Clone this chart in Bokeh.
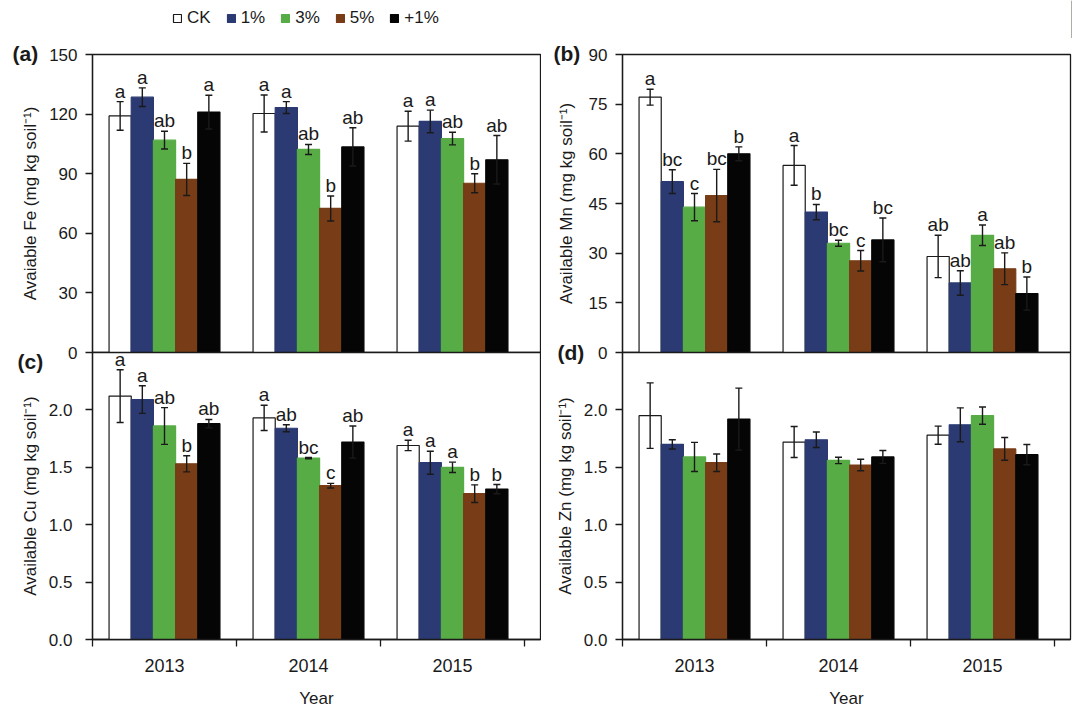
from bokeh.plotting import figure
from bokeh.models import (ColumnDataSource, Whisker, TeeHead, FixedTicker, Legend,
                          LegendItem, Range1d, NumeralTickFormatter)
from bokeh.layouts import row, column
from bokeh.core.properties import value
from bokeh.embed import file_html
from bokeh.resources import INLINE

years = ["2013", "2014", "2015"]
treatments = ["CK", "1%", "3%", "5%", "+1%"]
colors = ["#FFFFFF", "#2B3A72", "#58AC45", "#783D16", "#050505"]

# mean and error per treatment (rows) for 2013, 2014, 2015 (columns)
fe_mean = [[119.1, 120.3, 113.9], [128.5, 123.3, 116.3], [106.9, 102.2, 107.7],
           [87.1, 72.5, 85.2], [121.0, 103.5, 97.0]]
fe_err = [[7.2, 9.3, 7.5], [4.7, 3.0, 5.7], [4.5, 2.5, 3.2], [8.1, 6.3, 4.8], [8.5, 9.6, 12.2]]
fe_letters = [["a", "a", "a"], ["a", "a", "a"], ["ab", "ab", "ab"], ["b", "b", "b"], ["a", "ab", "ab"]]

mn_mean = [[77.1, 56.5, 29.0], [51.6, 42.4, 21.0], [43.9, 33.0, 35.4],
           [47.4, 27.7, 25.3], [60.0, 34.0, 17.8]]
mn_err = [[2.4, 6.0, 6.4], [3.6, 2.3, 3.7], [4.1, 0.9, 3.1], [7.9, 3.1, 4.8], [2.1, 6.6, 5.0]]
mn_letters = [["a", "a", "ab"], ["bc", "b", "ab"], ["c", "bc", "a"], ["bc", "c", "ab"], ["b", "bc", "b"]]

cu_mean = [[2.12, 1.93, 1.69], [2.09, 1.84, 1.54], [1.86, 1.58, 1.50],
           [1.53, 1.34, 1.27], [1.88, 1.72, 1.31]]
cu_err = [[0.23, 0.11, 0.045], [0.12, 0.03, 0.10], [0.16, 0.005, 0.045],
          [0.07, 0.02, 0.077], [0.037, 0.14, 0.04]]
cu_letters = [["a", "a", "a"], ["a", "ab", "a"], ["ab", "bc", "a"], ["b", "c", "b"], ["ab", "ab", "b"]]

zn_mean = [[1.95, 1.72, 1.78], [1.70, 1.74, 1.87], [1.59, 1.56, 1.95],
           [1.54, 1.52, 1.66], [1.92, 1.59, 1.61]]
zn_err = [[0.285, 0.135, 0.079], [0.04, 0.067, 0.148], [0.127, 0.028, 0.075],
          [0.076, 0.05, 0.099], [0.27, 0.056, 0.088]]

FONT = "Liberation Sans"
INK = "#1A1A1A"
BAR_W = 0.154
X_END = 448 / 144


def bar_style(j):
    return dict(fill_color=colors[j],
                line_color=INK if treatments[j] == "CK" else colors[j],
                line_width=1.2)


def panel(mean, err, letters, y_end, y_ticks, y_fmt, ylabel, tag, tag_offset, tag_standoff,
          width, height, borders, bottom_axis, tick_standoff, label_standoff):
    left, right, top, bottom = borders
    p = figure(width=width, height=height, x_range=Range1d(0, X_END),
               y_range=Range1d(0, y_end), output_backend="svg",
               toolbar_location=None, min_border_left=left,
               min_border_right=right, min_border_top=top,
               min_border_bottom=bottom)
    p.grid.visible = False
    p.outline_line_color = INK
    p.outline_line_width = 1.3

    # panel tag drawn as the plot title, pulled to the left of the frame
    p.title.text = tag
    p.title.align = "left"
    p.title.offset = tag_offset
    p.title.standoff = tag_standoff
    p.title.text_font = FONT
    p.title.text_font_size = "21px"
    p.title.text_font_style = "bold"
    p.title.text_color = INK

    for j in range(len(treatments)):
        xs = [i + 0.5 + (j - 2) * BAR_W for i in range(len(years))]
        src = ColumnDataSource(dict(
            x=xs, top=mean[j],
            upper=[m + e for m, e in zip(mean[j], err[j])],
            lower=[m - e for m, e in zip(mean[j], err[j])],
            letter=letters[j] if letters else [""] * len(years)))
        p.vbar(x="x", top="top", width=BAR_W, source=src, **bar_style(j))
        p.add_layout(Whisker(source=src, base="x", upper="upper", lower="lower",
                             level="annotation", line_color=INK, line_width=1.4,
                             upper_head=TeeHead(size=7, line_color=INK, line_width=1.4),
                             lower_head=TeeHead(size=7, line_color=INK, line_width=1.4)))
        if letters:
            p.text(x="x", y="upper", text="letter", source=src,
                   text_align="center", text_baseline="bottom", y_offset=0,
                   text_font=value(FONT), text_font_size="19px", text_color=INK)

    ax = p.yaxis[0]
    ax.ticker = FixedTicker(ticks=y_ticks)
    ax.formatter = NumeralTickFormatter(format=y_fmt)
    ax.axis_label = ylabel
    ax.axis_label_text_font = FONT
    ax.axis_label_text_font_size = "17px"
    ax.axis_label_text_font_style = "normal"
    ax.axis_label_text_color = INK
    ax.axis_label_standoff = label_standoff
    ax.major_label_text_font = FONT
    ax.major_label_text_font_size = "17px"
    ax.major_label_text_color = INK
    ax.major_label_standoff = tick_standoff
    ax.major_tick_in = 0
    ax.major_tick_out = 7
    ax.minor_tick_line_color = None
    ax.axis_line_color = INK
    ax.axis_line_width = 1.3
    ax.major_tick_line_color = INK
    ax.major_tick_line_width = 1.3

    xa = p.xaxis[0]
    if bottom_axis:
        xa.ticker = FixedTicker(ticks=[i + 0.5 for i in range(len(years))],
                                minor_ticks=list(range(len(years) + 1)))
        xa.major_label_overrides = {i + 0.5: y for i, y in enumerate(years)}
        xa.major_tick_line_color = None
        xa.major_tick_in = 0
        xa.major_tick_out = 0
        xa.minor_tick_in = 0
        xa.minor_tick_out = 7
        xa.minor_tick_line_color = INK
        xa.minor_tick_line_width = 1.3
        xa.major_label_standoff = 12
        xa.major_label_text_font = FONT
        xa.major_label_text_font_size = "18px"
        xa.major_label_text_color = INK
        xa.axis_label = "Year"
        xa.axis_label_text_font = FONT
        xa.axis_label_text_font_size = "17px"
        xa.axis_label_text_font_style = "normal"
        xa.axis_label_text_color = INK
        xa.axis_label_standoff = 14
        xa.axis_line_color = INK
        xa.axis_line_width = 1.3
    else:
        xa.visible = False
    return p


fa = panel(fe_mean, fe_err, fe_letters, 150, [0, 30, 60, 90, 120, 150], "0",
           "Avaiable Fe (mg kg soil⁻¹)", "(a)", -80, -20,
           541, 334, (92, 1, 16, 20), False, 8, 6)
fb = panel(mn_mean, mn_err, mn_letters, 90, [0, 15, 30, 45, 60, 75, 90], "0",
           "Available Mn (mg kg soil⁻¹)", "(b)", -69, -20,
           531, 334, (81, 2, 16, 20), False, 8, 10)
fc = panel(cu_mean, cu_err, cu_letters, 2.5, [0, 0.5, 1.0, 1.5, 2.0], "0.0",
           "Available Cu (mg kg soil⁻¹)", "(c)", -75, -40,
           541, 368, (92, 1, 10, 63), True, 13, 6)
fd = panel(zn_mean, zn_err, None, 2.5, [0, 0.5, 1.0, 1.5, 2.0], "0.0",
           "Available Zn (mg kg soil⁻¹)", "(d)", -65, -22,
           531, 368, (81, 2, 10, 63), True, 8, 6)

for lower in (fc, fd):
    lower.border_fill_color = None
    lower.margin = (-30, 0, 0, 0)

# shared legend strip across the top of the page; its swatch renderers
# hold a single bar that sits outside the visible range
key = figure(width=1072, height=38, x_range=Range1d(0, 1), y_range=Range1d(0, 1),
             output_backend="svg", toolbar_location=None, min_border=0,
             x_axis_location=None, y_axis_location=None, outline_line_color=None)
key.grid.visible = False
key_items = []
for j, name in enumerate(treatments):
    r = key.vbar(x=[5], top=[1], width=0.1, **bar_style(j))
    key_items.append(LegendItem(label=name, renderers=[r]))
key.add_layout(Legend(items=key_items, orientation="horizontal", location=(172, 10),
                      glyph_width=10, glyph_height=10, label_standoff=5, spacing=15,
                      padding=0, margin=0, border_line_color=None,
                      background_fill_alpha=0, label_text_font=FONT,
                      label_text_font_size="17px", label_text_color=INK))

layout = column(key, row(column(fa, fc), column(fb, fd)))
open("out.html", "w").write(file_html(layout, INLINE))
